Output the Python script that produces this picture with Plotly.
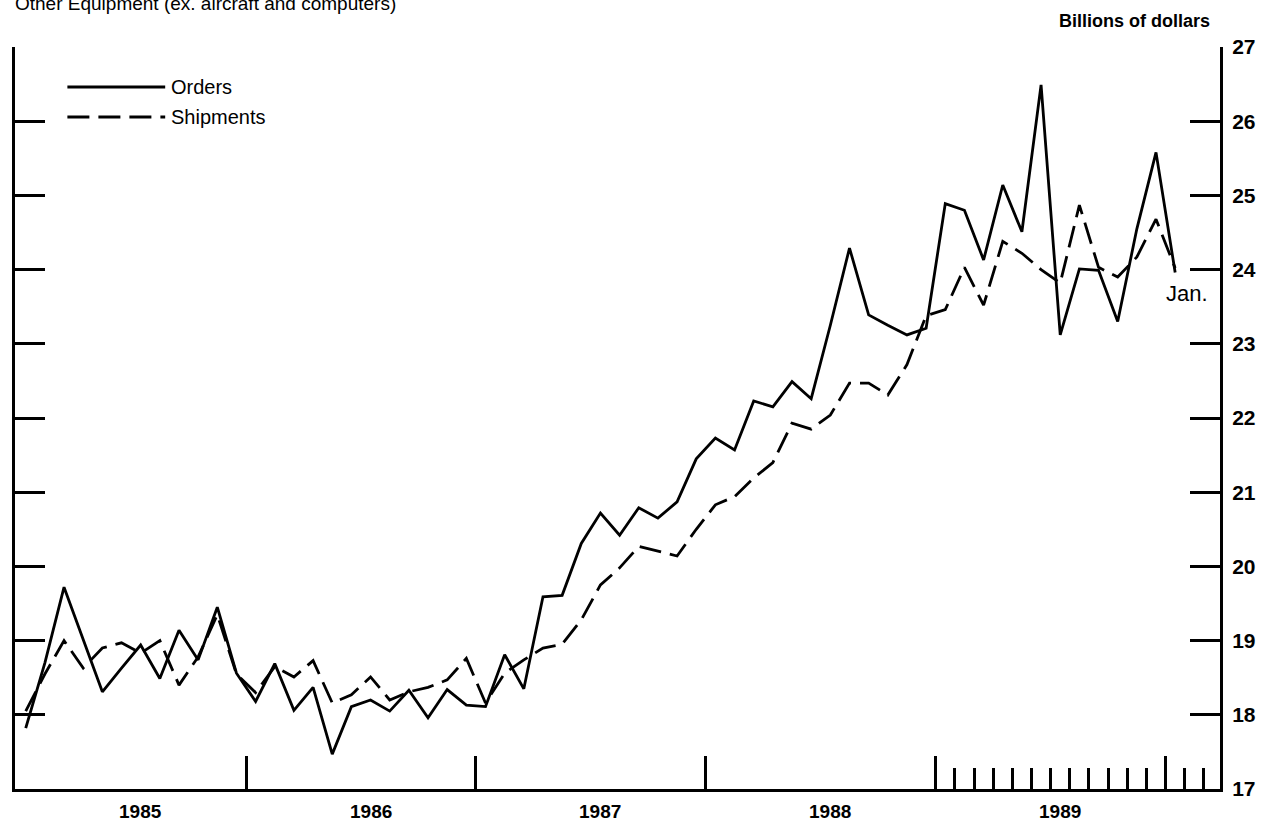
import plotly.graph_objects as go

# ---- data (billions of dollars), monthly Jan 1985 .. Jan 1990 ----
month_labels = [f"{m} {y}" for y in range(1985, 1990) for m in
                ["Jan", "Feb", "Mar", "Apr", "May", "Jun", "Jul", "Aug", "Sep", "Oct", "Nov", "Dec"]] + ["Jan 1990"]

orders = [17.82, 18.70, 19.72, 19.00, 18.31, 18.63, 18.94, 18.49, 19.14, 18.74, 19.45, 18.56,
          18.18, 18.69, 18.06, 18.37, 17.47, 18.11, 18.20, 18.05, 18.33, 17.96, 18.34, 18.13,
          18.11, 18.81, 18.35, 19.59, 19.61, 20.31, 20.72, 20.42, 20.79, 20.65, 20.87, 21.45,
          21.73, 21.57, 22.23, 22.15, 22.49, 22.26, 23.25, 24.29, 23.39, 23.25, 23.12, 23.21,
          24.89, 24.80, 24.13, 25.14, 24.51, 26.49, 23.12, 24.01, 23.99, 23.30, 24.55, 25.58,
          23.96]

shipments = [18.05, 18.55, 19.00, 18.63, 18.90, 18.97, 18.83, 19.00, 18.40, 18.78, 19.35, 18.55,
             18.30, 18.65, 18.51, 18.73, 18.16, 18.27, 18.51, 18.20, 18.31, 18.37, 18.47, 18.76,
             18.16, 18.56, 18.74, 18.90, 18.95, 19.28, 19.75, 19.98, 20.27, 20.20, 20.14, 20.50,
             20.83, 20.94, 21.19, 21.40, 21.93, 21.85, 22.04, 22.47, 22.47, 22.31, 22.72, 23.38,
             23.46, 24.03, 23.52, 24.38, 24.22, 24.00, 23.82, 24.87, 24.03, 23.90, 24.17, 24.68,
             24.02]

year_labels = ["1985", "1986", "1987", "1988", "1989"]
y_ticks = [17, 18, 19, 20, 21, 22, 23, 24, 25, 26, 27]

x_idx = list(range(len(orders)))

# ---- layout geometry (page pixels; body margin removed by post_script) ----
W, H = 1281, 829
L, R, T, B = 12.5, 1220, 47, 789
FONT = "Liberation Sans, Arial, Helvetica, sans-serif"


def px(xp):
    return (xp - L) / (R - L)


def py(yp):
    return (B - yp) / (B - T)


fig = go.Figure()
fig.add_trace(go.Scatter(x=x_idx, y=orders, mode="lines", name="Orders",
                         text=month_labels, line=dict(color="black", width=2.8)))
fig.add_trace(go.Scatter(x=x_idx, y=shipments, mode="lines", name="Shipments",
                         text=month_labels, line=dict(color="black", width=2.8, dash="22px,9px")))
# dummy trace for the long 27 tick on y2
fig.add_trace(go.Scatter(x=[None], y=[None], yaxis="y2", showlegend=False))

year_ticks = [11.5, 23.5, 35.5, 47.5, 59.5]
month_ticks = [48.5 + i for i in range(11)] + [60.5, 61.5]

fig.update_layout(
    width=W, height=H,
    margin=dict(l=L, r=W - R, t=T, b=H - B, pad=0),
    paper_bgcolor="white", plot_bgcolor="white",
    showlegend=False,
    xaxis=dict(range=[-0.56, 62.34], showgrid=False, zeroline=False,
               showline=True, linecolor="black", linewidth=3,
               ticks="inside", tickvals=year_ticks, ticklen=33, tickwidth=3,
               tickcolor="black", showticklabels=False,
               minor=dict(tickvals=month_ticks, ticks="inside", ticklen=21,
                          tickwidth=3, tickcolor="black")),
    yaxis=dict(range=[17, 27], side="right", showgrid=False, zeroline=False,
               showline=True, linecolor="black", linewidth=3, mirror="ticks",
               ticks="inside", tickvals=y_ticks, ticklen=30, tickwidth=3,
               tickcolor="black", ticklabelstandoff=5,
               tickfont=dict(family=FONT, size=21, color="black", weight="bold")),
    yaxis2=dict(range=[17, 27], overlaying="y", side="right", showgrid=False,
                zeroline=False, showline=False, mirror="ticks", ticks="inside",
                tickvals=[27], ticklen=38, tickwidth=3, tickcolor="black",
                showticklabels=False),
)

ann = []
# year labels under the axis
for i, lab in enumerate(year_labels):
    ann.append(dict(x=6 + 12 * i, y=0, xref="x", yref="paper", yshift=-22,
                    text=lab, showarrow=False, xanchor="center", yanchor="middle",
                    font=dict(family=FONT, size=19, color="black", weight="bold")))
# units label
ann.append(dict(x=px(1134), y=py(21), xref="paper", yref="paper", text="Billions of dollars",
                showarrow=False, xanchor="center", yanchor="middle",
                font=dict(family=FONT, size=18, color="black", weight="bold")))
# title (partly cut at the top, as in the reference)
ann.append(dict(x=px(10), y=py(4), xref="paper", yref="paper",
                text="Other Equipment (ex. aircraft and computers)",
                showarrow=False, xanchor="left", yanchor="middle",
                font=dict(family=FONT, size=19, color="black")))
# Jan. label
ann.append(dict(x=px(1187), y=py(293), xref="paper", yref="paper", text="Jan.",
                showarrow=False, xanchor="center", yanchor="middle",
                font=dict(family=FONT, size=22, color="black")))
# manual legend
ann.append(dict(x=px(167), y=py(87), xref="paper", yref="paper", text="Orders",
                showarrow=False, xanchor="left", yanchor="middle",
                font=dict(family=FONT, size=20, color="black")))
ann.append(dict(x=px(167), y=py(117), xref="paper", yref="paper", text="Shipments",
                showarrow=False, xanchor="left", yanchor="middle",
                font=dict(family=FONT, size=20, color="black")))
fig.update_layout(annotations=ann)

fig.add_shape(type="line", xref="paper", yref="paper", x0=px(65), x1=px(163),
              y0=py(87), y1=py(87), line=dict(color="black", width=2.8))
fig.add_shape(type="line", xref="paper", yref="paper", x0=px(65), x1=px(163),
              y0=py(117), y1=py(117), line=dict(color="black", width=2.8, dash="22px,9px"))

fig.write_html("out.html", config={"displayModeBar": False},
               post_script="document.body.style.margin='0';")
